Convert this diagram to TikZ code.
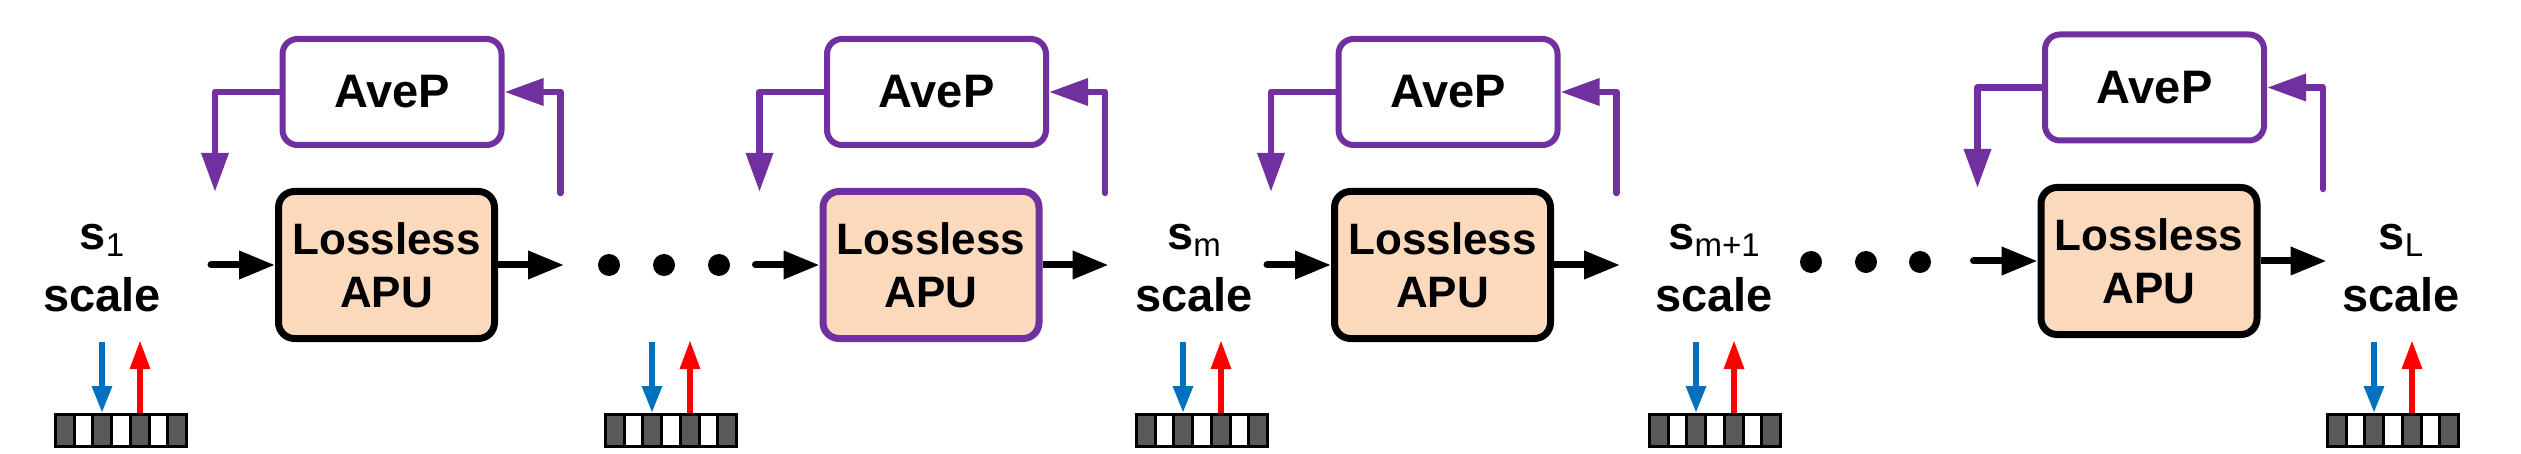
\documentclass[tikz,border=0pt]{standalone}
\usepackage{fontspec}
\setmainfont{Liberation Sans}
\usetikzlibrary{arrows.meta,calc}
\definecolor{apupurple}{HTML}{7030A0}
\definecolor{apublue}{HTML}{0070C0}
\definecolor{apured}{HTML}{FF0000}
\definecolor{apupeach}{HTML}{FBD9BC}
\definecolor{ckdark}{HTML}{595959}
\newcommand\lowsub[1]{{\fontsize{33}{33}\selectfont\mdseries\raisebox{-7pt}{#1}}}
\begin{document}
\begin{tikzpicture}[x=1pt,y=-1pt,
  lossbox/.style={draw=black, line width=7pt, fill=apupeach, rounded corners=16pt,
    minimum width=216pt, minimum height=147pt, inner sep=0pt, align=center,
    font=\fontsize{44}{53}\selectfont\bfseries},
  avebox/.style={draw=apupurple, line width=6pt, fill=white, rounded corners=15pt,
    minimum width=219pt, minimum height=106pt, inner sep=0pt,
    font=\fontsize{47}{56}\selectfont\bfseries},
  lbl/.style={inner sep=0pt, anchor=base, font=\fontsize{47}{56}\selectfont\bfseries},
  flowarr/.style={line width=7pt, -{Triangle[length=36pt,width=27pt]}},
  fbarr/.style={draw=apupurple, line width=6.5pt, line join=round,
    -{Triangle[length=39pt,width=26pt]}},
  bluearr/.style={draw=apublue, line width=6pt, -{Triangle[length=27pt,width=19pt]}},
  redarr/.style={draw=apured, line width=6pt, -{Triangle[length=29pt,width=19pt]}},
  dotn/.style={circle, fill=black, minimum size=22pt, inner sep=0pt},
  ckframe/.style={fill=black, minimum width=134pt, minimum height=35pt, inner sep=0pt, outer sep=0pt}
]
\useasboundingbox (0,0) rectangle (2521,454);
\fill[white] (0,0) rectangle (2521,454);

% stages
\foreach \i/\cx/\cy/\acy/\bc in {1/386.5/265/92/black, 2/931/265/92/apupurple,
    3/1442.5/265/92/black, 4/2149/261/87.5/black} {
  \node[lossbox, draw=\bc] (lu\i) at (\cx,\cy) {Lossless\\APU};
  \node[avebox] (ap\i) at (\cx+5.5,\acy) {AveP};
  \coordinate (in\i) at ($(lu\i.west)+(-64,0)$);
  \coordinate (out\i) at ($(lu\i.east)+(66,0)$);
  \coordinate (fl\i) at ($(lu\i.north west)+(-60,4)$);
  \coordinate (fr\i) at ($(lu\i.north east)+(62.5,5)$);
  \draw[flowarr, line cap=round] (in\i) -- (lu\i.west);
  \draw[flowarr] (lu\i.east) -- (out\i);
  \draw[fbarr] (ap\i.west) -| (fl\i);
  \draw[fbarr, line cap=round] (fr\i) |- (ap\i.east);
}

% dots
\foreach \n/\x/\y in {a/609/265, b/664/265, c/719/265, d/1811/262, e/1866/262, f/1920/262} {
  \node[dotn] (dot\n) at (\x,\y) {};
}

% scale labels
\node[lbl] (s1) at (102,250) {s\lowsub{1}};
\node[lbl] (sc1) at (102,311) {scale};
\node[lbl] (sm) at (1194,250) {s\lowsub{m}};
\node[lbl] (scm) at (1194,311) {scale};
\node[lbl] (smp) at (1714,250) {s\lowsub{m+1}};
\node[lbl] (scmp) at (1714,311) {scale};
\node[lbl] (sL) at (2401,250) {s\lowsub{L}};
\node[lbl] (scL) at (2401,311) {scale};

% memory strips with read/write arrows
\foreach \j/\lx in {1/54, 2/604, 3/1135, 4/1648, 5/2326} {
  \node[ckframe, anchor=north west] (ck\j) at (\lx,413) {};
  \foreach \k in {0,2,4,6} {
    \fill[ckdark] (\lx+3+\k*18.71,416) rectangle ++(15.7,29);
  }
  \foreach \k in {1,3,5} {
    \fill[white] (\lx+3+\k*18.71,416) rectangle ++(15.7,29);
  }
  \coordinate (bt\j) at (\lx+48,342);
  \coordinate (rt\j) at (\lx+86,340);
  \draw[bluearr] (bt\j) -- (bt\j |- ck\j.north);
  \draw[redarr] (rt\j |- ck\j.north) -- (rt\j);
}
\end{tikzpicture}
\end{document}
